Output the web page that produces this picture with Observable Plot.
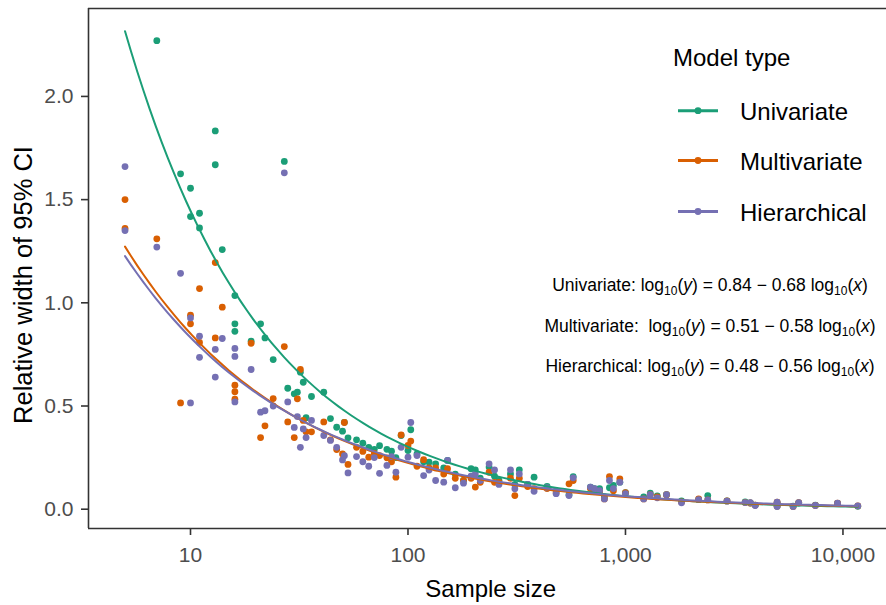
<!DOCTYPE html>
<html><head><meta charset="utf-8">
<script src="https://cdn.jsdelivr.net/npm/d3@7"></script>
<script src="https://cdn.jsdelivr.net/npm/@observablehq/plot@0.6"></script>
<style>
html,body{margin:0;padding:0;background:#fff;overflow:hidden;}
#wrap{width:886px;height:605px;overflow:hidden;position:relative;}
#wrap svg{max-width:none !important;display:block;}
</style></head><body><div id="wrap"></div>
<script>
const models = ["Univariate", "Multivariate", "Hierarchical"];
const colors = ["#1B9E77", "#D95F02", "#7570B3"];
const intercepts = [0.84, 0.51, 0.48];
const slopes = [-0.68, -0.58, -0.56];
const xTicks = [10, 100, 1000, 10000];
const yTicks = [0, 0.5, 1, 1.5, 2];

const sampleSize = [5,5,7,9,10,10,11,11,13,13,14,16,16,16,19,21,22,24,27,28,30,31,32,33,34,36,41,44,47,50,51,53,58,62,66,70,74,80,84,88,93,100,103,110,118,125,134,146,152,165,180,195,204,215,236,250,262,296,310,325,355,380,436,480,550,575,690,720,760,800,844,880,942,1000,1213,1300,1400,1544,1810,2170,2390,2930,3550,3750,3950,4980,4980,5900,6260,7470,9440,11700];
const univariate = [null,null,2.27,1.625,1.555,1.418,1.434,1.363,1.833,1.669,1.258,1.035,0.898,0.862,0.814,0.898,0.83,0.725,1.685,0.586,0.559,0.567,0.664,0.615,0.443,0.546,0.567,0.439,0.397,0.378,0.421,0.346,0.336,0.32,0.30,0.29,0.308,0.29,0.281,0.25,0.357,0.284,0.385,0.268,0.23,0.228,0.22,0.2,0.236,0.17,0.139,0.196,0.191,0.15,0.204,0.16,0.14,0.171,0.12,0.191,0.12,0.155,0.11,0.09,0.07,0.158,0.107,0.10,0.10,0.06,0.104,0.115,0.131,0.08,0.06,0.078,0.065,0.07,0.04,0.046,0.066,0.04,0.035,0.03,0.02,0.03,0.015,0.015,0.03,0.02,0.028,0.014];
const multivariate = [1.50,1.36,1.31,0.515,0.94,0.898,1.069,0.808,1.195,0.83,0.979,0.601,0.569,0.533,0.804,0.347,0.404,0.536,0.788,0.423,0.347,0.535,0.677,0.43,0.375,0.375,0.423,0.336,0.289,0.268,0.42,0.217,0.30,0.28,0.252,0.27,0.26,0.249,0.23,0.155,0.36,0.309,0.33,0.208,0.24,0.2,0.2,0.17,0.196,0.15,0.14,0.15,0.107,0.13,0.179,0.13,0.13,0.15,0.066,0.15,0.11,0.10,0.10,0.08,0.123,0.139,0.10,0.09,0.085,0.05,0.158,0.09,0.147,0.08,0.05,0.07,0.06,0.07,0.035,0.05,0.045,0.04,0.032,0.03,0.02,0.034,0.015,0.013,0.032,0.018,0.029,0.016];
const hierarchical = [1.66,1.35,1.27,1.143,0.927,0.515,0.838,0.736,0.774,0.64,0.827,0.779,0.74,0.52,0.677,0.47,0.477,0.50,1.63,0.52,0.396,0.449,0.30,0.389,0.347,0.43,0.357,0.333,0.30,0.239,0.259,0.176,0.255,0.23,0.208,0.25,0.174,0.212,0.255,0.179,0.30,0.252,0.42,0.26,0.163,0.19,0.139,0.131,0.236,0.104,0.126,0.16,0.171,0.139,0.22,0.19,0.12,0.191,0.099,0.171,0.12,0.087,0.104,0.075,0.066,0.152,0.107,0.099,0.09,0.05,0.139,0.10,0.131,0.075,0.05,0.07,0.055,0.071,0.031,0.046,0.045,0.039,0.032,0.032,0.018,0.034,0.013,0.013,0.032,0.018,0.029,0.016];

const seriesValues = [univariate, multivariate, hierarchical];
const points = [];
models.forEach((m, k) => {
  sampleSize.forEach((n, i) => {
    const v = seriesValues[k][i];
    if (v != null) points.push({model: m, n, y: v});
  });
});

// fitted power-law curves from the printed coefficients
const nMin = d3.min(sampleSize), nMax = d3.max(sampleSize);
const curves = [];
models.forEach((m, k) => {
  const steps = 120;
  for (let s = 0; s <= steps; s++) {
    const lx = Math.log10(nMin) + (Math.log10(nMax) - Math.log10(nMin)) * s / steps;
    curves.push({model: m, n: 10 ** lx, y: 10 ** (intercepts[k] + slopes[k] * lx)});
  }
});

const FONT = "'Liberation Sans', Arial, Helvetica, sans-serif";
const xDomain = [10 ** 0.531, 10 ** 4.237];
const yDomain = [-0.0935, 2.426];

const plot = Plot.plot({
  width: 894, height: 605,
  marginLeft: 88, marginTop: 8, marginRight: 0, marginBottom: 77,
  style: {fontFamily: FONT, fontSize: "20px", background: "#fff", color: "#000", maxWidth: "none"},
  x: {type: "log", domain: xDomain, label: null},
  y: {domain: yDomain, label: null},
  color: {domain: models, range: colors},
  marks: [
    Plot.dot(points, {x: "n", y: "y", fill: "model", r: 3.4}),
    Plot.line(curves, {x: "n", y: "y", stroke: "model", z: "model", strokeWidth: 2}),
    Plot.ruleY(yDomain, {stroke: "#333", strokeWidth: 1.6}),
    Plot.ruleX([xDomain[0]], {stroke: "#333", strokeWidth: 1.6}),
    Plot.axisX({ticks: xTicks, tickFormat: d3.format(","), tickSize: 7, tickPadding: 12, stroke: "#333", strokeWidth: 1.6, fill: "#4d4d4d", fontSize: 21, label: null}),
    Plot.axisY({ticks: yTicks, tickFormat: d3.format(".1f"), tickSize: 7, tickPadding: 8, stroke: "#333", strokeWidth: 1.6, fill: "#4d4d4d", fontSize: 21, label: null})
  ]
});
document.getElementById("wrap").appendChild(plot);

const svg = d3.select(plot);
const g = svg.append("g").attr("font-family", FONT).attr("text-anchor", "start");

// axis titles
g.append("text").attr("x", 490.7).attr("y", 597).attr("text-anchor", "middle")
  .attr("font-size", 24).attr("fill", "#000").text("Sample size");
g.append("text").attr("transform", "translate(31.5,285) rotate(-90)").attr("text-anchor", "middle")
  .attr("font-size", 25.5).attr("fill", "#000").text("Relative width of 95% CI");

// legend
g.append("text").attr("x", 673).attr("y", 66).attr("font-size", 24).attr("fill", "#000").text("Model type");
const legendY = [110.7, 160.5, 211.5];
models.forEach((m, k) => {
  g.append("line").attr("x1", 678).attr("x2", 718).attr("y1", legendY[k]).attr("y2", legendY[k])
    .attr("stroke", colors[k]).attr("stroke-width", 3);
  g.append("circle").attr("cx", 698).attr("cy", legendY[k]).attr("r", 3.4).attr("fill", colors[k]);
  g.append("text").attr("x", 740).attr("y", legendY[k] + 9).attr("font-size", 24).attr("fill", "#000").text(m);
});

// regression equations
const eqY = [291, 332, 372];
const labelsEq = ["Univariate: ", "Multivariate:  ", "Hierarchical: "];
models.forEach((m, k) => {
  const a = intercepts[k].toFixed(2), b = Math.abs(slopes[k]).toFixed(2);
  const parts = [
    {t: labelsEq[k] + "log"}, {t: "10", sub: true}, {t: "("}, {t: "y", it: true},
    {t: ") = " + a + " \u2212 " + b + " log"}, {t: "10", sub: true}, {t: "("}, {t: "x", it: true}, {t: ")"}
  ];
  const t = g.append("text").attr("x", 710).attr("y", eqY[k]).attr("text-anchor", "middle")
    .attr("font-size", 17.5).attr("fill", "#000").style("white-space", "pre");
  let shifted = false;
  parts.forEach(p => {
    const ts = t.append("tspan").text(p.t);
    if (p.sub) { ts.attr("font-size", 12).attr("dy", shifted ? 0 : 4); shifted = true; }
    else if (shifted) { ts.attr("dy", -4); shifted = false; }
    if (p.it) ts.attr("font-style", "italic");
  });
});
</script></body></html>
